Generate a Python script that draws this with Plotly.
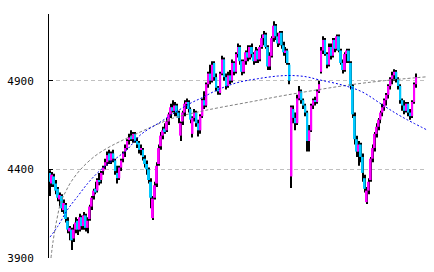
import plotly.graph_objects as go

# ---- candle data (index = trading day) ----
open_ = [
4380,4320,4360,4320,4290,4230,4250,4170,4200,4110,
4050,4060,4010,4060,4110,4060,4130,4080,4140,4070,
4120,4190,4250,4290,4280,4340,4340,4390,4420,4440,
4490,4450,4490,4450,4380,4350,4410,4460,4500,4520,
4570,4590,4570,4600,4560,4550,4510,4510,4460,4430,
4400,4330,4125,4240,4320,4430,4530,4590,4630,4620,
4670,4710,4750,4730,4760,4720,4590,4670,4720,4770,
4780,4740,4600,4690,4720,4660,4620,4700,4790,4760,
4880,4940,4900,5000,4920,4860,4830,4940,5020,4920,
4870,4930,4900,5000,4950,5050,5090,5010,4950,5010,
5060,5030,5090,5050,5010,5070,5020,5090,5140,5160,
5090,4980,5040,5140,5210,5150,5110,5170,5100,5060,
5070,4990,4360,4740,4690,4660,4800,4840,4790,4760,
4720,4560,4620,4760,4790,4780,4840,4950,5070,5130,
5050,4990,5090,5040,5130,5080,5150,5070,5000,4960,
5050,5070,5000,4870,4700,4570,4500,4540,4470,4350,
4215,4280,4340,4460,4520,4600,4640,4680,4720,4750,
4790,4820,4870,4910,4930,4950,4910,4870,4790,4760,
4730,4770,4720,4700,4780,4880]

high = [
4395,4385,4375,4340,4300,4270,4260,4230,4210,4130,
4080,4070,4090,4130,4120,4150,4140,4160,4150,4130,
4200,4250,4290,4330,4350,4380,4390,4420,4460,4500,
4510,4500,4510,4460,4420,4420,4460,4500,4540,4570,
4600,4620,4610,4610,4580,4560,4540,4520,4480,4450,
4410,4350,4250,4330,4440,4540,4610,4640,4660,4690,
4720,4770,4790,4780,4770,4730,4670,4730,4790,4800,
4790,4750,4700,4740,4730,4680,4710,4800,4840,4890,
4950,4990,5010,5010,4940,4870,4950,5040,5030,4940,
4950,4960,5020,5010,5060,5110,5100,5020,5020,5070,
5100,5100,5110,5060,5090,5080,5100,5160,5180,5170,
5100,5060,5150,5235,5220,5170,5180,5180,5120,5090,
5080,5000,4760,4760,4720,4820,4870,4850,4800,4770,
4730,4650,4770,4800,4810,4850,4900,5090,5150,5140,
5060,5110,5110,5140,5140,5160,5160,5080,5020,5060,
5080,5080,5010,4880,4720,4590,4560,4550,4490,4370,
4300,4350,4470,4540,4610,4660,4690,4730,4770,4800,
4830,4880,4920,4950,4965,4960,4920,4880,4800,4790,
4780,4780,4740,4790,4890,4940]

low = [
4250,4300,4300,4260,4220,4190,4160,4150,4100,4040,
4000,3945,3990,4040,4030,4050,4060,4060,4050,4040,
4110,4170,4230,4260,4270,4310,4320,4370,4400,4420,
4430,4430,4440,4370,4320,4340,4390,4440,4470,4510,
4540,4560,4550,4550,4520,4490,4480,4450,4410,4370,
4320,4180,4115,4230,4300,4420,4510,4570,4600,4610,
4650,4690,4720,4700,4700,4660,4560,4650,4700,4740,
4720,4660,4580,4670,4640,4585,4600,4690,4740,4750,
4860,4880,4890,4900,4840,4820,4820,4930,4900,4850,
4860,4880,4890,4930,4940,5030,4990,4930,4940,4990,
5010,5020,5030,4990,5000,5000,5010,5080,5100,5080,
4960,4960,5030,5120,5130,5090,5100,5080,5040,5000,
4990,4880,4295,4660,4620,4650,4790,4770,4740,4700,
4500,4500,4610,4740,4760,4770,4830,4940,5050,5040,
4970,4980,5020,5030,5060,5070,5060,4990,4940,4950,
5000,5000,4850,4690,4540,4470,4420,4440,4330,4270,
4205,4260,4330,4440,4500,4580,4620,4660,4700,4730,
4760,4800,4850,4880,4900,4890,4850,4770,4730,4710,
4720,4700,4680,4690,4770,4860]

close = [
4330,4370,4315,4280,4240,4255,4180,4210,4120,4060,
4070,4000,4060,4100,4060,4130,4080,4140,4070,4110,
4190,4240,4280,4270,4340,4330,4380,4410,4440,4480,
4450,4490,4460,4390,4350,4410,4450,4490,4520,4560,
4580,4570,4600,4560,4540,4510,4520,4470,4430,4400,
4340,4240,4235,4310,4420,4520,4590,4620,4610,4670,
4710,4750,4730,4760,4720,4690,4660,4720,4770,4780,
4740,4680,4690,4720,4660,4620,4700,4790,4760,4880,
4940,4900,4990,4920,4860,4840,4940,5020,4920,4870,
4930,4900,5000,4950,5050,5090,5010,4950,5010,5060,
5030,5090,5050,5010,5070,5020,5090,5140,5160,5090,
4980,5040,5140,5210,5150,5110,5170,5100,5060,5070,
5000,4900,4750,4690,4660,4800,4840,4790,4760,4720,
4560,4620,4760,4790,4780,4840,4880,5070,5130,5050,
4990,5090,5040,5130,5080,5150,5070,5000,4960,5050,
5070,5010,4870,4710,4570,4500,4540,4470,4380,4290,
4280,4330,4460,4520,4600,4640,4680,4720,4750,4790,
4820,4870,4910,4930,4950,4910,4870,4790,4760,4730,
4770,4720,4700,4780,4880,4920]

# ---- trend curves (day index, value) ----
trend_a_x = [0, 4, 9, 14, 19, 24, 29, 34, 39, 46, 55.5, 62, 70.5, 77, 85, 95,
             105, 115, 122, 129.5, 135.5, 147.5, 157.5, 169, 177.5, 190.5]
trend_a_y = [4018, 4080, 4175, 4248, 4320, 4380, 4428, 4467, 4512, 4597, 4665,
             4712, 4770, 4805, 4850, 4890, 4911, 4926, 4929, 4922, 4906, 4876,
             4838, 4756, 4698, 4622]

trend_b_x = [0.5, 1.5, 3.5, 5.5, 8, 10.5, 15.5, 22.5, 29, 35, 45.5, 53.5, 62,
             75, 85.5, 102, 115, 135.5, 152.5, 169, 190.5]
trend_b_y = [3900, 3990, 4119, 4215, 4276, 4327, 4400, 4473, 4520, 4555, 4610,
             4650, 4688, 4724, 4748, 4782, 4810, 4849, 4878, 4900, 4922]

y_ticks = [3900, 4400, 4900]

UP = "#FF00FF"
DOWN = "#00C8FF"

days = list(range(len(close)))
body_base = [min(o, c) for o, c in zip(open_, close)]
body_h = [max(abs(c - o), 5) for o, c in zip(open_, close)]
body_col = [UP if c >= o else DOWN for o, c in zip(open_, close)]
wick_h = [h - l for h, l in zip(high, low)]

fig = go.Figure()
fig.add_trace(go.Bar(x=days, y=wick_h, base=low, width=0.5,
                     marker=dict(color="#000000", line=dict(width=0)),
                     hoverinfo="skip"))
fig.add_trace(go.Bar(x=days, y=body_h, base=body_base, width=1.0,
                     marker=dict(color=body_col, line=dict(width=0)),
                     hoverinfo="skip"))
fig.add_trace(go.Scatter(x=trend_b_x, y=trend_b_y, mode="lines",
                         line=dict(color="#808080", width=1, dash="3px,2px",
                                   shape="spline"),
                         hoverinfo="skip"))
fig.add_trace(go.Scatter(x=trend_a_x, y=trend_a_y, mode="lines",
                         line=dict(color="#0000EE", width=1, dash="2px,2px",
                                   shape="spline"),
                         hoverinfo="skip"))

fig.update_layout(
    width=434, height=272,
    margin=dict(l=45, r=7, t=14, b=13),
    paper_bgcolor="white", plot_bgcolor="white",
    barmode="overlay", showlegend=False, hovermode=False,
    xaxis=dict(range=[-0.5, 190.5], visible=False, fixedrange=True),
    yaxis=dict(range=[3900, 5276], tickvals=y_ticks,
               ticktext=[str(v) for v in y_ticks],
               ticks="inside", ticklen=4, tickcolor="black", tickwidth=1,
               showline=True, linecolor="black", linewidth=1,
               showgrid=True, gridcolor="#C0C0C0", gridwidth=1,
               griddash="4px,3px", zeroline=False,
               tickfont=dict(family="DejaVu Sans Mono", size=11, color="black"),
               ticklabelstandoff=12, fixedrange=True),
)

fig.write_html("out.html")
